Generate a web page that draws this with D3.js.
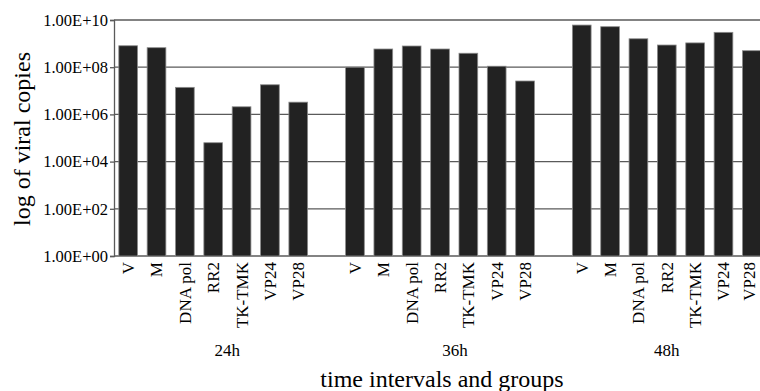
<!DOCTYPE html>
<html>
<head>
<meta charset="utf-8">
<script src="https://cdn.jsdelivr.net/npm/d3@7"></script>
<style>
  html, body { margin: 0; padding: 0; background: #fff; }
  svg { display: block; }
  text { font-family: "Liberation Serif", "Times New Roman", serif; fill: #000; }
</style>
</head>
<body>
<svg id="chart" width="760" height="391"></svg>
<script>
// ---- data ----
const groups = ["24h", "36h", "48h"];
const genes = ["V", "M", "DNA pol", "RR2", "TK-TMK", "VP24", "VP28"];
const values24h = [8.1e8, 6.7e8, 1.4e7, 6.3e4, 2.1e6, 1.8e7, 3.3e6];
const values36h = [1.0e8, 5.9e8, 7.9e8, 5.9e8, 3.9e8, 1.1e8, 2.6e7];
const values48h = [6.1e9, 5.2e9, 1.6e9, 8.7e8, 1.07e9, 3.0e9, 5.0e8];
const yTicks = [1e0, 1e2, 1e4, 1e6, 1e8, 1e10];
const yTickLabels = ["1.00E+00", "1.00E+02", "1.00E+04", "1.00E+06", "1.00E+08", "1.00E+10"];
const yTitle = "log of viral copies";
const xTitle = "time intervals and groups";

const seriesByGroup = [values24h, values36h, values48h];

// build slots (one empty slot between groups)
const slots = [];
const bars = [];
groups.forEach((g, gi) => {
  genes.forEach((gene, i) => {
    const key = g + "|" + gene;
    slots.push(key);
    bars.push({ key, group: g, gene, value: seriesByGroup[gi][i] });
  });
  if (gi < groups.length - 1) slots.push("gap" + gi);
});

// ---- layout ----
const mLeft = 114, mRight = 766, mTop = 20, mBottom = 256;
const svg = d3.select("#chart");

const x = d3.scaleBand().domain(slots).range([mLeft, mRight]).paddingInner(0.34).paddingOuter(0.17);
const y = d3.scaleLog().domain([1, 1e10]).range([mBottom, mTop]);

// gridlines
svg.append("g").selectAll("line").data(yTicks).join("line")
  .attr("x1", mLeft).attr("x2", mRight)
  .attr("y1", d => y(d)).attr("y2", d => y(d))
  .attr("stroke", "#5a5a5a").attr("stroke-width", 1.3);

// y axis
const yAxis = d3.axisLeft(y).tickValues(yTicks)
  .tickFormat((d, i) => yTickLabels[i]).tickSize(4).tickPadding(2);
const gy = svg.append("g").attr("transform", `translate(${mLeft},0)`).call(yAxis);
gy.attr("font-family", null).attr("font-size", null);
gy.select(".domain").attr("stroke", "#5a5a5a").attr("stroke-width", 1.3);
gy.selectAll(".tick line").attr("stroke", "#5a5a5a").attr("stroke-width", 1.3);
gy.selectAll(".tick text")
  .style("font-family", '"Liberation Serif", serif')
  .style("font-size", "16.5px").attr("fill", "#000");

// bars
svg.append("g").selectAll("rect").data(bars).join("rect")
  .attr("x", d => x(d.key))
  .attr("width", x.bandwidth())
  .attr("y", d => y(d.value))
  .attr("height", d => y(1) - y(d.value))
  .attr("fill", "#222")
  .attr("stroke", "#8a8a8a").attr("stroke-width", 0.8);

// x category labels (rotated), kept inside the visible area
svg.append("g").selectAll("text").data(bars).join("text")
  .attr("transform", d => `translate(${Math.min(x(d.key) + x.bandwidth() / 2, 749)},${mBottom + 6}) rotate(-90)`)
  .attr("text-anchor", "end")
  .attr("dy", "0.35em")
  .style("font-size", "17px")
  .text(d => d.gene);

// group labels
const groupShift = [14, 15, 0];
svg.append("g").selectAll("text").data(groups).join("text")
  .attr("x", (g, i) => {
    const a = x(g + "|" + genes[0]);
    const b = x(g + "|" + genes[genes.length - 1]) + x.bandwidth();
    return (a + b) / 2 + groupShift[i];
  })
  .attr("y", 356)
  .attr("text-anchor", "middle")
  .style("font-size", "17px")
  .text(g => g);

// axis titles
svg.append("text")
  .attr("x", 442).attr("y", 387)
  .attr("text-anchor", "middle")
  .style("font-size", "24px")
  .text(xTitle);

svg.append("text")
  .attr("transform", "translate(30,139) rotate(-90)")
  .attr("text-anchor", "middle")
  .style("font-size", "24px")
  .text(yTitle);
</script>
</body>
</html>
